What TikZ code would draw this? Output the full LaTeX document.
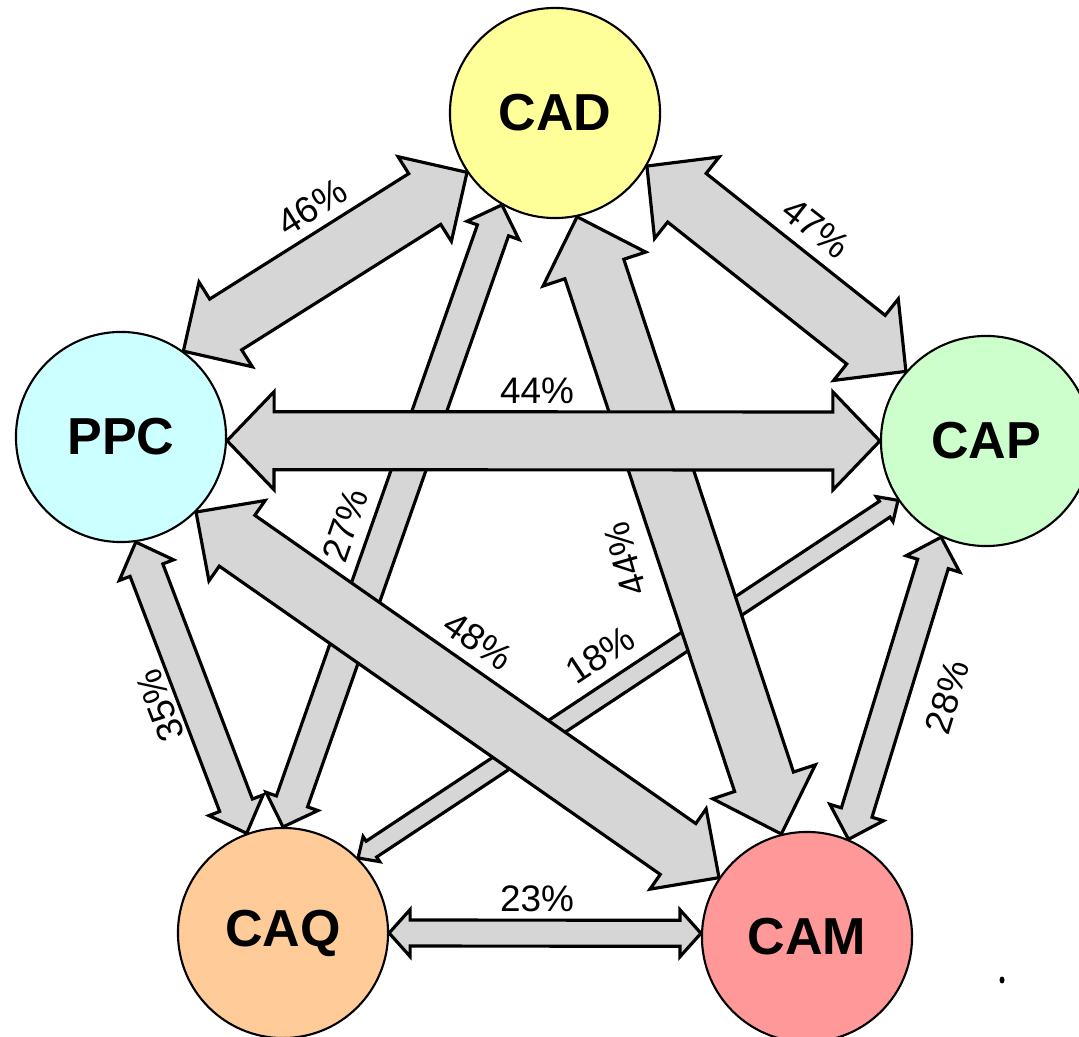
\documentclass[tikz,border=0pt]{standalone}
\usepackage{fontspec}
\setmainfont{Liberation Sans}
\usetikzlibrary{calc}
\pgfdeclarelayer{arrowlayer}
\pgfsetlayers{arrowlayer,main}

% double-headed block arrow between two points:
% #1, #2 tips; #3 half shaft width, #4 half head width, #5 head length (all cm)
\newcommand{\dblarrow}[5]{%
  \coordinate (ta) at (#1);
  \coordinate (tb) at (#2);
  \coordinate (ha) at ($(ta)!#5cm!(tb)$);
  \coordinate (hb) at ($(tb)!#5cm!(ta)$);
  \filldraw[blockarrow] (ta)
    -- ($(ha)!#4cm!90:(tb)$)
    -- ($(ha)!#3cm!90:(tb)$)
    -- ($(hb)!#3cm!-90:(ta)$)
    -- ($(hb)!#4cm!-90:(ta)$)
    -- (tb)
    -- ($(hb)!#4cm!90:(ta)$)
    -- ($(hb)!#3cm!90:(ta)$)
    -- ($(ha)!#3cm!-90:(tb)$)
    -- ($(ha)!#4cm!-90:(tb)$)
    -- cycle;
}

\definecolor{cadfill}{HTML}{FFFF99}
\definecolor{ppcfill}{HTML}{CCFFFF}
\definecolor{capfill}{HTML}{CCFFCC}
\definecolor{caqfill}{HTML}{FFCC99}
\definecolor{camfill}{HTML}{FF9999}
\definecolor{stipple}{HTML}{D6D6D6}

\begin{document}
\begin{tikzpicture}[x=0.01cm,y=-0.01cm,
  station/.style={circle,draw=black,line width=0.6pt,minimum size=2.1cm,
    inner sep=0pt,font=\fontsize{14.8}{16}\selectfont\bfseries},
  blockarrow/.style={fill=stipple,draw=black,line width=0.9pt,line join=miter},
  lbl/.style={font=\fontsize{10.5}{12}\selectfont,inner sep=0pt}]

\useasboundingbox (0,0) rectangle (1079,1037);
\clip (0,0) rectangle (1079,1037);

% the five systems
\node[station,fill=cadfill] (CAD) at (555,113) {CAD};
\node[station,fill=ppcfill] (PPC) at (121,437) {PPC};
\node[station,fill=capfill] (CAP) at (986,441) {CAP};
\node[station,fill=caqfill] (CAQ) at (283,933) {CAQ};
\node[station,fill=camfill] (CAM) at (807,937) {CAM};

% integration links
\begin{pgfonlayer}{arrowlayer}
  \dblarrow{CAQ.90}{CAD.240}{0.165}{0.275}{0.27}
  \dblarrow{CAQ.45}{CAP.214}{0.095}{0.15}{0.16}
  \dblarrow{PPC.278}{CAQ.110}{0.175}{0.29}{0.30}
  \dblarrow{CAP.245}{CAM.67}{0.16}{0.28}{0.28}
  \dblarrow{CAQ.0}{CAM.178}{0.13}{0.235}{0.21}
  \dblarrow{PPC.54}{CAD.214}{0.30}{0.50}{0.50}
  \dblarrow{CAD.330}{CAP.139}{0.31}{0.52}{0.51}
  \dblarrow{CAD.282}{CAM.104}{0.31}{0.54}{0.55}
  \dblarrow{PPC.315}{CAM.146}{0.31}{0.49}{0.50}
  \dblarrow{PPC.358}{CAP.180}{0.29}{0.49}{0.47}
\end{pgfonlayer}

% shares
\node[lbl,rotate=32]  (l46)  at (312,207) {46\%};
\node[lbl,rotate=-38] (l47)  at (816,228) {47\%};
\node[lbl]            (l44h) at (537,391) {44\%};
\node[lbl,rotate=71]  (l27)  at (345,525) {27\%};
\node[lbl,rotate=106] (l44d) at (625,559) {44\%};
\node[lbl,rotate=-35] (l48)  at (478,641) {48\%};
\node[lbl,rotate=33.5] (l18) at (600,655) {18\%};
\node[lbl,rotate=111] (l35)  at (160,706) {35\%};
\node[lbl,rotate=73]  (l28)  at (947,697) {28\%};
\node[lbl]            (l23)  at (537,899) {23\%};

% small ink dot
\fill (1002,980) ellipse (2.5 and 3.5);
\end{tikzpicture}
\end{document}
